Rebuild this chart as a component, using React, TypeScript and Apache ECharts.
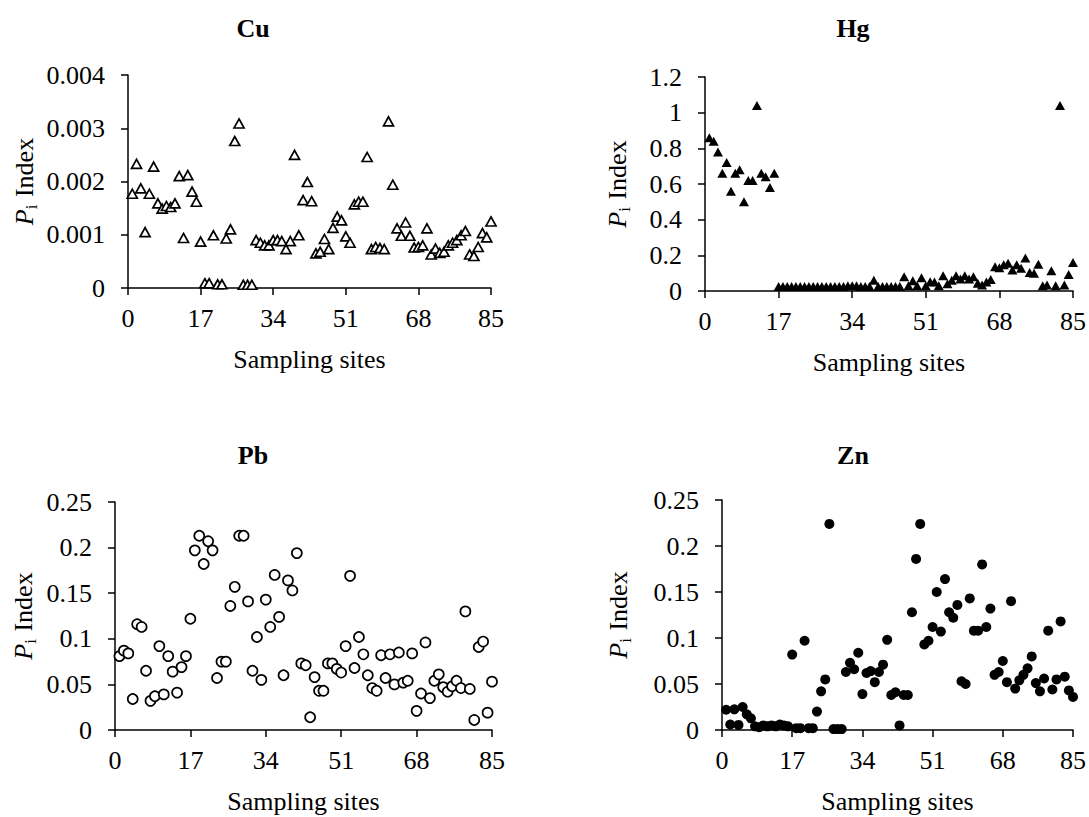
import React, { useEffect, useRef } from "react";
import * as echarts from "echarts";

// Sampling sites (x positions)
const sites = [
  1, 2, 3, 4, 5, 6, 7, 8, 9, 10, 11, 12, 13, 14, 15, 16, 17, 18, 19, 20,
  21, 22, 23, 24, 25, 26, 27, 28, 29, 30, 31, 32, 33, 34, 35, 36, 37, 38, 39, 40,
  41, 42, 43, 44, 45, 46, 47, 48, 49, 50, 51, 52, 53, 54, 55, 56, 57, 58, 59, 60,
  61, 62, 63, 64, 65, 66, 67, 68, 69, 70, 71, 72, 73, 74, 75, 76, 77, 78, 79, 80,
  81, 82, 83, 84, 85,
];

const xTicks = [0, 17, 34, 51, 68, 85];

const cuValues = [
  0.00177, 0.00233, 0.00187, 0.00105, 0.00177, 0.00228, 0.00159, 0.00149, 0.00154, 0.00152,
  0.00159, 0.0021, 0.00094, 0.00212, 0.00181, 0.00162, 0.00087, 0.00009, 0.00009, 0.00099,
  0.00007, 0.00007, 0.00093, 0.0011, 0.00276, 0.00309, 0.00006, 0.00006, 0.00006, 0.0009,
  0.00085, 0.0008, 0.0008, 0.0009, 0.0009, 0.00088, 0.00073, 0.00088, 0.0025, 0.00099,
  0.00165, 0.00199, 0.00163, 0.00065, 0.00068, 0.00092, 0.00073, 0.00113, 0.00134, 0.00127,
  0.00097, 0.00085, 0.00157, 0.00162, 0.00162, 0.00246, 0.00073, 0.00077, 0.00075, 0.00073,
  0.00313, 0.00194, 0.00112, 0.00098, 0.00123, 0.00098, 0.00076, 0.00077, 0.0008, 0.00112,
  0.00063, 0.00074, 0.00066, 0.00068, 0.0008, 0.00085, 0.0009, 0.00099, 0.00107, 0.00063,
  0.0006, 0.00077, 0.00103, 0.00095, 0.00125,
];

const hgValues = [
  0.86, 0.84, 0.78, 0.66, 0.72, 0.56, 0.66, 0.68, 0.5, 0.62,
  0.62, 1.04, 0.66, 0.64, 0.58, 0.66, 0.025, 0.025, 0.025, 0.025,
  0.025, 0.025, 0.025, 0.025, 0.025, 0.025, 0.025, 0.025, 0.025, 0.025,
  0.025, 0.025, 0.03, 0.03, 0.03, 0.025, 0.025, 0.025, 0.06, 0.025,
  0.025, 0.025, 0.025, 0.025, 0.025, 0.08, 0.03, 0.058, 0.03, 0.075,
  0.03, 0.052, 0.05, 0.03, 0.086, 0.04, 0.06, 0.086, 0.067, 0.086,
  0.067, 0.08, 0.043, 0.034, 0.05, 0.065, 0.136, 0.13, 0.147, 0.155,
  0.118, 0.147, 0.127, 0.185, 0.104, 0.1, 0.15, 0.03, 0.034, 0.114,
  0.03, 1.04, 0.034, 0.093, 0.16,
];

const pbValues = [
  0.081, 0.087, 0.084, 0.034, 0.116, 0.113, 0.065, 0.032, 0.037, 0.092,
  0.039, 0.081, 0.064, 0.041, 0.069, 0.081, 0.122, 0.197, 0.213, 0.182,
  0.207, 0.197, 0.057, 0.075, 0.075, 0.136, 0.157, 0.213, 0.213, 0.141,
  0.065, 0.102, 0.055, 0.143, 0.113, 0.17, 0.124, 0.06, 0.164, 0.153,
  0.194, 0.073, 0.071, 0.014, 0.058, 0.043, 0.043, 0.073, 0.073, 0.067,
  0.063, 0.092, 0.169, 0.068, 0.102, 0.083, 0.06, 0.046, 0.043, 0.082,
  0.057, 0.083, 0.05, 0.085, 0.052, 0.054, 0.084, 0.021, 0.04, 0.096,
  0.035, 0.054, 0.061, 0.047, 0.042, 0.048, 0.054, 0.046, 0.13, 0.045,
  0.011, 0.091, 0.097, 0.019, 0.053,
];

const znValues = [
  0.022, 0.006, 0.0225, 0.0055, 0.025, 0.017, 0.0127, 0.004, 0.003, 0.005,
  0.004, 0.005, 0.004, 0.006, 0.005, 0.004, 0.082, 0.002, 0.002, 0.097,
  0.002, 0.002, 0.02, 0.042, 0.055, 0.224, 0.001, 0.001, 0.001, 0.063,
  0.073, 0.066, 0.084, 0.039, 0.062, 0.064, 0.052, 0.063, 0.071, 0.098,
  0.038, 0.041, 0.005, 0.038, 0.038, 0.128, 0.186, 0.224, 0.093, 0.097,
  0.112, 0.15, 0.107, 0.164, 0.128, 0.122, 0.136, 0.053, 0.05, 0.143,
  0.108, 0.108, 0.18, 0.112, 0.132, 0.06, 0.063, 0.075, 0.052, 0.14,
  0.045, 0.054, 0.06, 0.067, 0.08, 0.051, 0.042, 0.056, 0.108, 0.044,
  0.055, 0.118, 0.058, 0.043, 0.036,
];

const titles = ["Cu", "Hg", "Pb", "Zn"];
const yMax = [0.004, 1.2, 0.25, 0.25];
const yInterval = [0.001, 0.2, 0.05, 0.05];

const FONT = "'Liberation Serif', 'Times New Roman', serif";

export default function App() {
  const ref = useRef<HTMLDivElement>(null);

  useEffect(() => {
    if (!ref.current) return;
    const chart = echarts.init(ref.current, undefined, { renderer: "svg" });

    const grids = [
      { left: 128, top: 75, width: 363, height: 213 },
      { left: 705, top: 77, width: 370, height: 214 },
      { left: 115, top: 502, width: 377, height: 228 },
      { left: 722, top: 500, width: 351, height: 230 },
    ];
    const titlePos = [
      [253, 28],
      [853, 28],
      [253, 455],
      [853, 455],
    ];
    const yNameGap = [88, 72, 76, 88];

    const axisLine = { show: true, lineStyle: { color: "#000", width: 1.5 } };
    const axisTick = { show: true, inside: false, length: 7, lineStyle: { color: "#000", width: 1.5 } };

    const xAxes = grids.map((_, i) => ({
      type: "value",
      gridIndex: i,
      min: 0,
      max: 85,
      interval: 17,
      splitLine: { show: false },
      axisLine,
      axisTick,
      axisLabel: {
        color: "#000",
        fontSize: 26,
        fontFamily: FONT,
        margin: 17,
        formatter: (v: number) => (xTicks.includes(v) ? String(v) : ""),
      },
      name: "Sampling sites",
      nameLocation: "middle",
      nameGap: 58,
      nameTextStyle: { color: "#000", fontSize: 26, fontFamily: FONT },
    }));

    const yAxes = grids.map((_, i) => ({
      type: "value",
      gridIndex: i,
      min: 0,
      max: yMax[i],
      interval: yInterval[i],
      splitLine: { show: false },
      axisLine,
      axisTick,
      axisLabel: { color: "#000", fontSize: 26, fontFamily: FONT, margin: 23 },
      name: "{p|P}{s|i} Index",
      nameLocation: "middle",
      nameRotate: 90,
      nameGap: yNameGap[i],
      nameTextStyle: {
        color: "#000",
        fontSize: 26,
        fontFamily: FONT,
        rich: {
          p: { fontStyle: "italic", fontSize: 26, fontFamily: FONT, color: "#000" },
          s: { fontSize: 17, fontFamily: FONT, color: "#000", padding: [14, 1, 0, 0] },
        },
      },
    }));

    const valueSets = [cuValues, hgValues, pbValues, znValues];
    const symbols = ["triangle", "triangle", "circle", "circle"];
    const sizes: any[] = [[10, 9], [10, 9], 10, 10];
    const filled = [false, true, false, true];

    const series = valueSets.map((vals, i) => ({
      type: "scatter",
      xAxisIndex: i,
      yAxisIndex: i,
      symbol: symbols[i],
      symbolSize: sizes[i],
      itemStyle: filled[i]
        ? { color: "#000", opacity: 1 }
        : { color: "#fff", borderColor: "#000", borderWidth: 1.7, opacity: 1 },
      data: sites.map((s, k) => [s, vals[k]]),
    }));

    chart.setOption({
      animation: false,
      backgroundColor: "#fff",
      grid: grids,
      xAxis: xAxes,
      yAxis: yAxes,
      series,
      graphic: titles.map((t, i) => ({
        type: "text",
        x: titlePos[i][0],
        y: titlePos[i][1],
        style: {
          text: t,
          fontSize: 26,
          fontWeight: "bold",
          fontFamily: FONT,
          fill: "#000",
          align: "center",
          verticalAlign: "middle",
        },
      })),
    });

    return () => chart.dispose();
  }, []);

  return (
    <div
      ref={ref}
      style={{ position: "absolute", left: 0, top: 0, width: 1089, height: 817, background: "#fff" }}
    />
  );
}
